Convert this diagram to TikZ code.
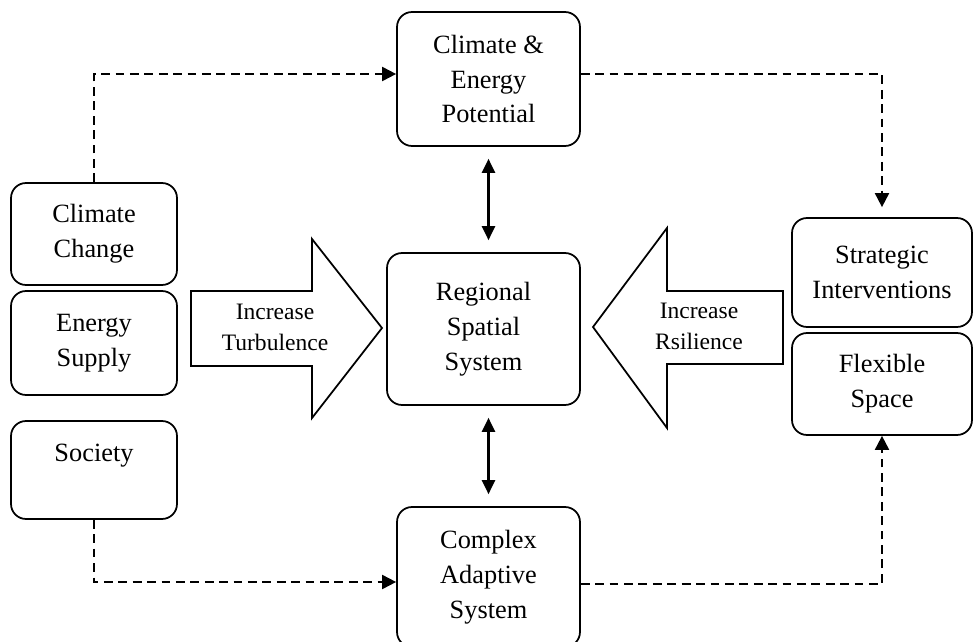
\documentclass[tikz,border=0pt]{standalone}
\usepackage{fontspec}
\setmainfont{Liberation Serif}
\usetikzlibrary{arrows.meta}

\tikzset{
    box/.style={draw, line width=1pt, rounded corners=0.3cm, align=center,
        font=\fontsize{15}{19.8}\selectfont, inner sep=0pt},
    flow/.style={line width=1.1pt, dash pattern=on 5pt off 3.2pt, -{Triangle[length=8pt,width=8pt]}},
    link/.style={line width=1.2pt, {Triangle[length=8pt,width=7.5pt]}-{Triangle[length=8pt,width=7.5pt]}, shorten <=0.24cm, shorten >=0.24cm},
    bigarrow/.style={draw, line width=1pt, line join=miter},
    arrowtext/.style={align=center, font=\fontsize{13.4}{17.6}\selectfont, inner sep=0pt}
}

\begin{document}
\begin{tikzpicture}[x=0.02cm, y=-0.02cm]

        \clip (0,0) rectangle (974,642);

        % Centre column
        \node[box, minimum width=3.66cm, minimum height=2.68cm] (cep) at (488.5,79) {Climate \&\\Energy\\Potential};
        \node[box, minimum width=3.86cm, minimum height=3.04cm] (rss) at (483.5,329) {Regional\\Spatial\\System};
        \node[box, minimum width=3.66cm, minimum height=2.8cm] (cas) at (488.5,577) {Complex\\Adaptive\\System};

        % Drivers (left)
        \node[box, minimum width=3.32cm, minimum height=2.04cm] (cc) at (94,234) {Climate\\Change};
        \node[box, minimum width=3.32cm, minimum height=2.08cm] (es) at (94,343) {Energy\\Supply};
        \node[box, minimum width=3.32cm, minimum height=1.96cm] (soc) at (94,470) {Society\\~};

        % Responses (right)
        \node[box, minimum width=3.6cm, minimum height=2.18cm] (si) at (882,272.5) {Strategic\\Interventions};
        \node[box, minimum width=3.6cm, minimum height=2.04cm] (fs) at (882,384) {Flexible\\Space};

        % Block arrows
        \draw[bigarrow] (191,291) -- (312,291) -- (312,239) -- (382,328) -- (312,418) -- (312,366) -- (191,366) -- cycle;
        \node[arrowtext] (turb) at (275,327) {Increase\\Turbulence};

        \draw[bigarrow] (783,291) -- (667,291) -- (667,228) -- (593,327) -- (667,428) -- (667,364) -- (783,364) -- cycle;
        \node[arrowtext] (resil) at (699,326) {Increase\\Rsilience};

        % Two-way links
        \draw[link] (cep.south) -- (cep.south |- rss.north);
        \draw[link] (cas.north |- rss.south) -- (cas.north);

        % Dashed flows
        \draw[flow] (cc.north) |- ([yshift=0.1cm]cep.west);
        \draw[flow, shorten >=0.2cm] ([yshift=0.1cm]cep.east) -| (si.north);
        \draw[flow] (soc.south) |- ([yshift=-0.1cm]cas.west);
        \draw[flow] ([yshift=-0.14cm]cas.east) -| (fs.south);

    \end{tikzpicture}
\end{document}
